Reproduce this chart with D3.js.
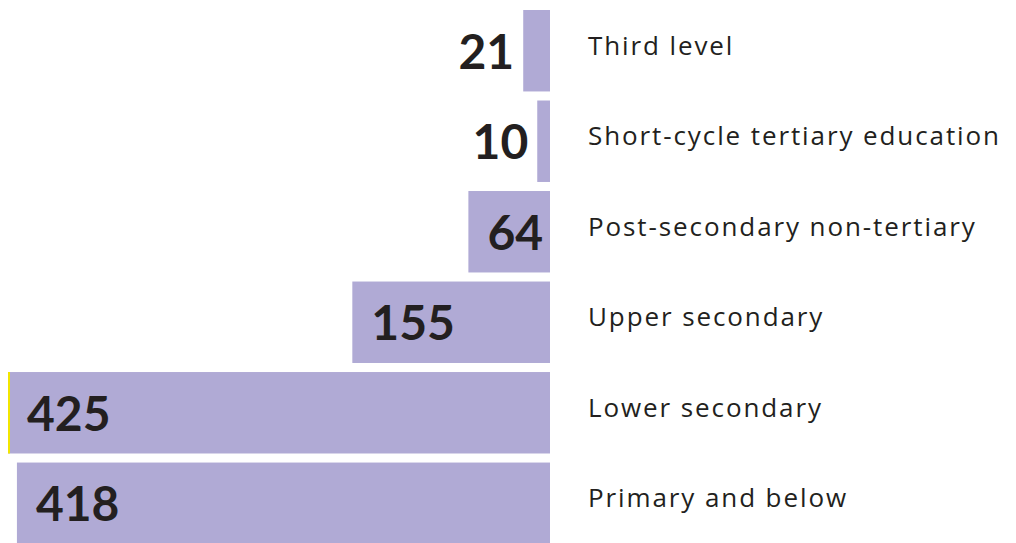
<!DOCTYPE html>
<html>
<head>
<meta charset="utf-8">
<script src="https://cdn.jsdelivr.net/npm/d3@7"></script>
<style>
  body { margin: 0; background: #fff; }
  svg { display: block; }
</style>
</head>
<body>
<div id="chart"></div>
<script>
// education levels, top to bottom
const categories = [
  "Third level",
  "Short-cycle tertiary education",
  "Post-secondary non-tertiary",
  "Upper secondary",
  "Lower secondary",
  "Primary and below"
];
const values = [21, 10, 64, 155, 425, 418];

const width = 1016, height = 543;
const barRight = 550;

const svg = d3.select("#chart").append("svg")
  .attr("width", width)
  .attr("height", height);

// bars grow to the left from barRight
let x = d3.scaleLinear().domain([0, 425]).range([0, 542]);
let y = d3.scaleBand().domain(categories).range([10, 544]).paddingInner(0.1).paddingOuter(0);

const rows = categories.map(function (c, i) {
  return {cat: c, value: values[i]};
});
const maxVal = d3.max(values);

let g = svg.selectAll(".row")
  .data(rows)
  .enter().append("g")
  .attr("class", "row");

g.append("rect")
  .attr("x", d => barRight - x(d.value))
  .attr("y", d => y(d.cat))
  .attr("width", d => x(d.value))
  .attr("height", y.bandwidth())
  .attr("fill", "#b0aad5");

// thin yellow edge on the largest bar
g.filter(d => d.value === maxVal).append("line")
  .attr("x1", d => barRight - x(d.value) + 1)
  .attr("x2", d => barRight - x(d.value) + 1)
  .attr("y1", d => y(d.cat))
  .attr("y2", d => y(d.cat) + y.bandwidth())
  .attr("stroke", "#f2e600")
  .attr("stroke-width", 2);

// value labels: inside when the bar is wide enough, else outside to the left
g.append("text")
  .attr("x", function (d) {
    return x(d.value) > 70 ? barRight - x(d.value) + 19 : barRight - x(d.value) - 9;
  })
  .attr("y", d => y(d.cat) + y.bandwidth() / 2 + 18)
  .attr("text-anchor", d => x(d.value) > 70 ? "start" : "end")
  .style("font", "bold 48px Lato, sans-serif")
  .attr("fill", "#231f20")
  .text(d => d.value);

// category labels
g.append("text")
  .attr("x", 588)
  .attr("y", d => y(d.cat) + y.bandwidth() / 2 + 4)
  .style("font", "26px 'Open Sans', sans-serif")
  .style("letter-spacing", "1.9px")
  .attr("fill", "#231f20")
  .text(d => d.cat);
</script>
</body>
</html>
